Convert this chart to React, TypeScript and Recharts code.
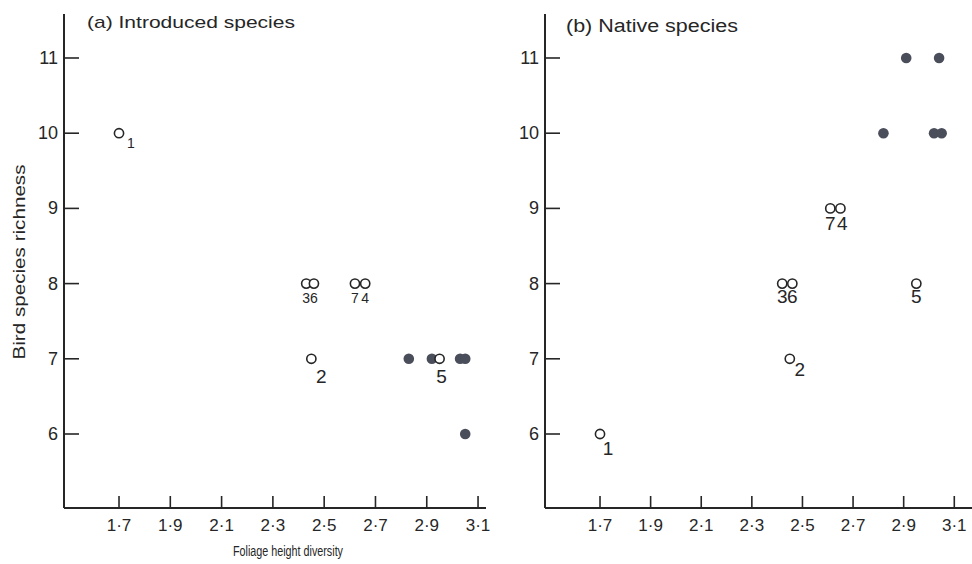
import { ScatterChart, Scatter, XAxis, YAxis } from "recharts";

const xTicks = [1.7, 1.9, 2.1, 2.3, 2.5, 2.7, 2.9, 3.1];
const yTicks = [6, 7, 8, 9, 10, 11];

// (a) introduced species: open = numbered sites, filled = other sites
const introducedOpen = [
  { site: "1", x: 1.7, y: 10 },
  { site: "2", x: 2.45, y: 7 },
  { site: "3", x: 2.43, y: 8 },
  { site: "6", x: 2.46, y: 8 },
  { site: "7", x: 2.62, y: 8 },
  { site: "4", x: 2.66, y: 8 },
  { site: "5", x: 2.95, y: 7 },
];
const introducedFilled = [
  { x: 2.83, y: 7 },
  { x: 2.92, y: 7 },
  { x: 3.03, y: 7 },
  { x: 3.05, y: 7 },
  { x: 3.05, y: 6 },
];

// (b) native species
const nativeOpen = [
  { site: "1", x: 1.7, y: 6 },
  { site: "2", x: 2.45, y: 7 },
  { site: "3", x: 2.42, y: 8 },
  { site: "6", x: 2.46, y: 8 },
  { site: "7", x: 2.61, y: 9 },
  { site: "4", x: 2.65, y: 9 },
  { site: "5", x: 2.95, y: 8 },
];
const nativeFilled = [
  { x: 2.91, y: 11 },
  { x: 3.04, y: 11 },
  { x: 2.82, y: 10 },
  { x: 3.02, y: 10 },
  { x: 3.05, y: 10 },
];

const INK = "#262626";
const DOT = "#4a4e5b";
const FONT = "'Liberation Sans', Arial, sans-serif";

// label placement per site: [dx, dy, fontSize]
type Offsets = Record<string, [number, number, number]>;
const introducedLabels: Offsets = {
  "1": [12, 10, 14],
  "2": [10, 18, 19],
  "5": [2, 18, 19],
  "3": [0, 14, 14],
  "6": [0, 14, 14],
  "7": [0, 14, 14],
  "4": [0, 14, 14],
};
const nativeLabels: Offsets = {
  "1": [8, 14, 19],
  "2": [10, 11, 19],
  "3": [0, 13, 19],
  "6": [0, 13, 19],
  "7": [0, 15, 19],
  "4": [2, 15, 19],
  "5": [0, 13, 19],
};

const fmt = (v: number) => v.toFixed(1).replace(".", "·");

function XTick(props: any) {
  const { x, y, payload } = props;
  return (
    <g>
      <line x1={x} y1={y} x2={x} y2={y - 12} stroke={INK} strokeWidth={1.6} />
      <text x={x} y={y + 17} textAnchor="middle" dominantBaseline="central" fontSize={17} fontFamily={FONT} fill={INK}>
        {fmt(payload.value)}
      </text>
    </g>
  );
}

function YTick(props: any) {
  const { x, y, payload } = props;
  return (
    <g>
      <line x1={x} y1={y} x2={x + 15} y2={y} stroke={INK} strokeWidth={1.6} />
      <text x={x - 6} y={y} textAnchor="end" dominantBaseline="central" fontSize={18} fontFamily={FONT} fill={INK}>
        {payload.value}
      </text>
    </g>
  );
}

function FilledDot(props: any) {
  return <circle cx={props.cx} cy={props.cy} r={5.3} fill={DOT} />;
}

function Panel({
  left,
  width,
  rightPad,
  axisWidth,
  domain,
  open,
  filled,
  labels,
}: {
  left: number;
  width: number;
  rightPad: number;
  axisWidth: number;
  domain: [number, number];
  open: { site: string; x: number; y: number }[];
  filled: { x: number; y: number }[];
  labels: Offsets;
}) {
  const OpenDot = (p: any) => {
    const [dx, dy, fs] = labels[p.payload.site] ?? [0, 14, 19];
    return (
      <g>
        <circle cx={p.cx} cy={p.cy} r={4.6} fill="#fff" stroke={INK} strokeWidth={1.6} />
        <text
          x={p.cx + dx}
          y={p.cy + dy}
          textAnchor="middle"
          dominantBaseline="central"
          fontSize={fs}
          fontFamily={FONT}
          fill={INK}
        >
          {p.payload.site}
        </text>
      </g>
    );
  };

  return (
    <div style={{ position: "absolute", left, top: 0 }}>
      <ScatterChart width={width} height={564} margin={{ top: 14, right: rightPad, bottom: 0, left: 0 }}>
        <XAxis
          type="number"
          dataKey="x"
          domain={domain}
          ticks={xTicks}
          interval={0}
          allowDataOverflow
          height={56}
          axisLine={{ stroke: INK, strokeWidth: 2 }}
          tickLine={false}
          tickSize={0}
          tickMargin={0}
          tick={XTick}
        />
        <YAxis
          type="number"
          dataKey="y"
          domain={[5.016, 11.585]}
          ticks={yTicks}
          interval={0}
          allowDataOverflow
          width={axisWidth}
          axisLine={{ stroke: INK, strokeWidth: 2 }}
          tickLine={false}
          tickSize={0}
          tickMargin={0}
          tick={YTick}
        />
        <Scatter data={filled} isAnimationActive={false} shape={FilledDot} />
        <Scatter data={open} isAnimationActive={false} shape={OpenDot} />
      </ScatterChart>
    </div>
  );
}

export default function App() {
  return (
    <div style={{ position: "absolute", left: 0, top: 0, width: 972, height: 564, background: "#fff" }}>
      <Panel
        left={0}
        width={502}
        rightPad={16}
        axisWidth={64}
        domain={[1.4855, 3.131]}
        open={introducedOpen}
        filled={introducedFilled}
        labels={introducedLabels}
      />
      <Panel
        left={486}
        width={486}
        rightPad={0}
        axisWidth={59}
        domain={[1.4826, 3.17]}
        open={nativeOpen}
        filled={nativeFilled}
        labels={nativeLabels}
      />
      <svg
        width={972}
        height={564}
        style={{ position: "absolute", left: 0, top: 0, pointerEvents: "none" }}
        fontFamily={FONT}
        fill={INK}
      >
        <text x={87} y={28} fontSize={17} textLength={208} lengthAdjust="spacingAndGlyphs">
          (a) Introduced species
        </text>
        <text x={566} y={32} fontSize={18} textLength={172} lengthAdjust="spacingAndGlyphs">
          (b) Native species
        </text>
        <text
          x={0}
          y={0}
          transform="translate(25 262) rotate(-90)"
          textAnchor="middle"
          fontSize={17}
          textLength={195}
          lengthAdjust="spacingAndGlyphs"
        >
          Bird species richness
        </text>
        <text x={288} y={556} textAnchor="middle" fontSize={14} textLength={110} lengthAdjust="spacingAndGlyphs">
          Foliage height diversity
        </text>
      </svg>
    </div>
  );
}
